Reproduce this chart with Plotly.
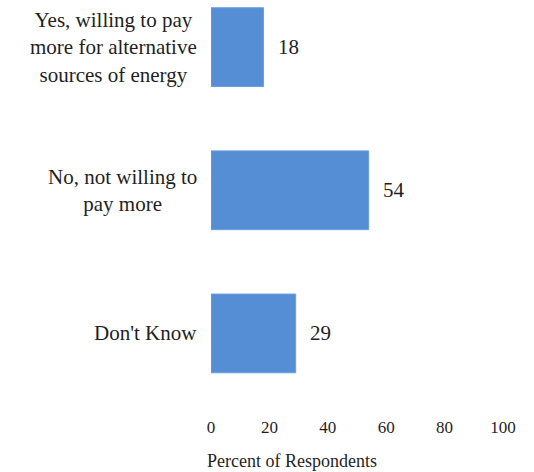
import plotly.graph_objects as go

# Survey responses: willingness to pay more for alternative energy
categories = [
    "Yes, willing to pay<br>more for alternative<br>sources of energy",
    "No, not willing to<br>pay more",
    "Don't Know",
]
values = [18, 54, 29]
x_ticks = [0, 20, 40, 60, 80, 100]

SERIF = '"Liberation Serif", "DejaVu Serif", serif'
TEXT = "#1f1f1f"
BAR = "#558ED5"

fig = go.Figure(
    go.Bar(
        x=values,
        y=categories,
        orientation="h",
        marker=dict(color=BAR, line=dict(color="#6a9fdc", width=1)),
        hoverinfo="x+y",
    )
)

for v, c in zip(values, categories):
    # value label just past the end of each bar
    fig.add_annotation(
        x=v, y=c, xref="x", yref="y", text=str(v), showarrow=False,
        xanchor="left", xshift=12, font=dict(family=SERIF, size=21, color=TEXT),
    )
    # centred, multi-line category label to the left of the axis
    fig.add_annotation(
        x=0, y=c, xref="paper", yref="y", text=c, showarrow=False,
        xanchor="right", xshift=-12, align="center",
        font=dict(family=SERIF, size=21, color=TEXT),
    )

# axis title
fig.add_annotation(
    x=27.8, y=-0.138, xref="x", yref="paper", text="Percent of Respondents",
    showarrow=False, xanchor="center", yanchor="middle",
    font=dict(family=SERIF, size=18, color=TEXT),
)

fig.update_layout(
    width=534,
    height=472,
    margin=dict(l=211, r=31, t=0, b=67),
    paper_bgcolor="white",
    plot_bgcolor="white",
    bargap=0.45,
    showlegend=False,
    xaxis=dict(
        range=[0, 100],
        tickvals=x_ticks,
        showgrid=False,
        zeroline=False,
        showline=False,
        ticks="",
        ticklabelstandoff=10,
        tickfont=dict(family=SERIF, size=17, color=TEXT),
    ),
    yaxis=dict(
        type="category",
        range=[2.5, -0.329],
        showgrid=False,
        zeroline=False,
        showline=False,
        ticks="",
        showticklabels=False,
    ),
)

fig.write_html("out.html")
